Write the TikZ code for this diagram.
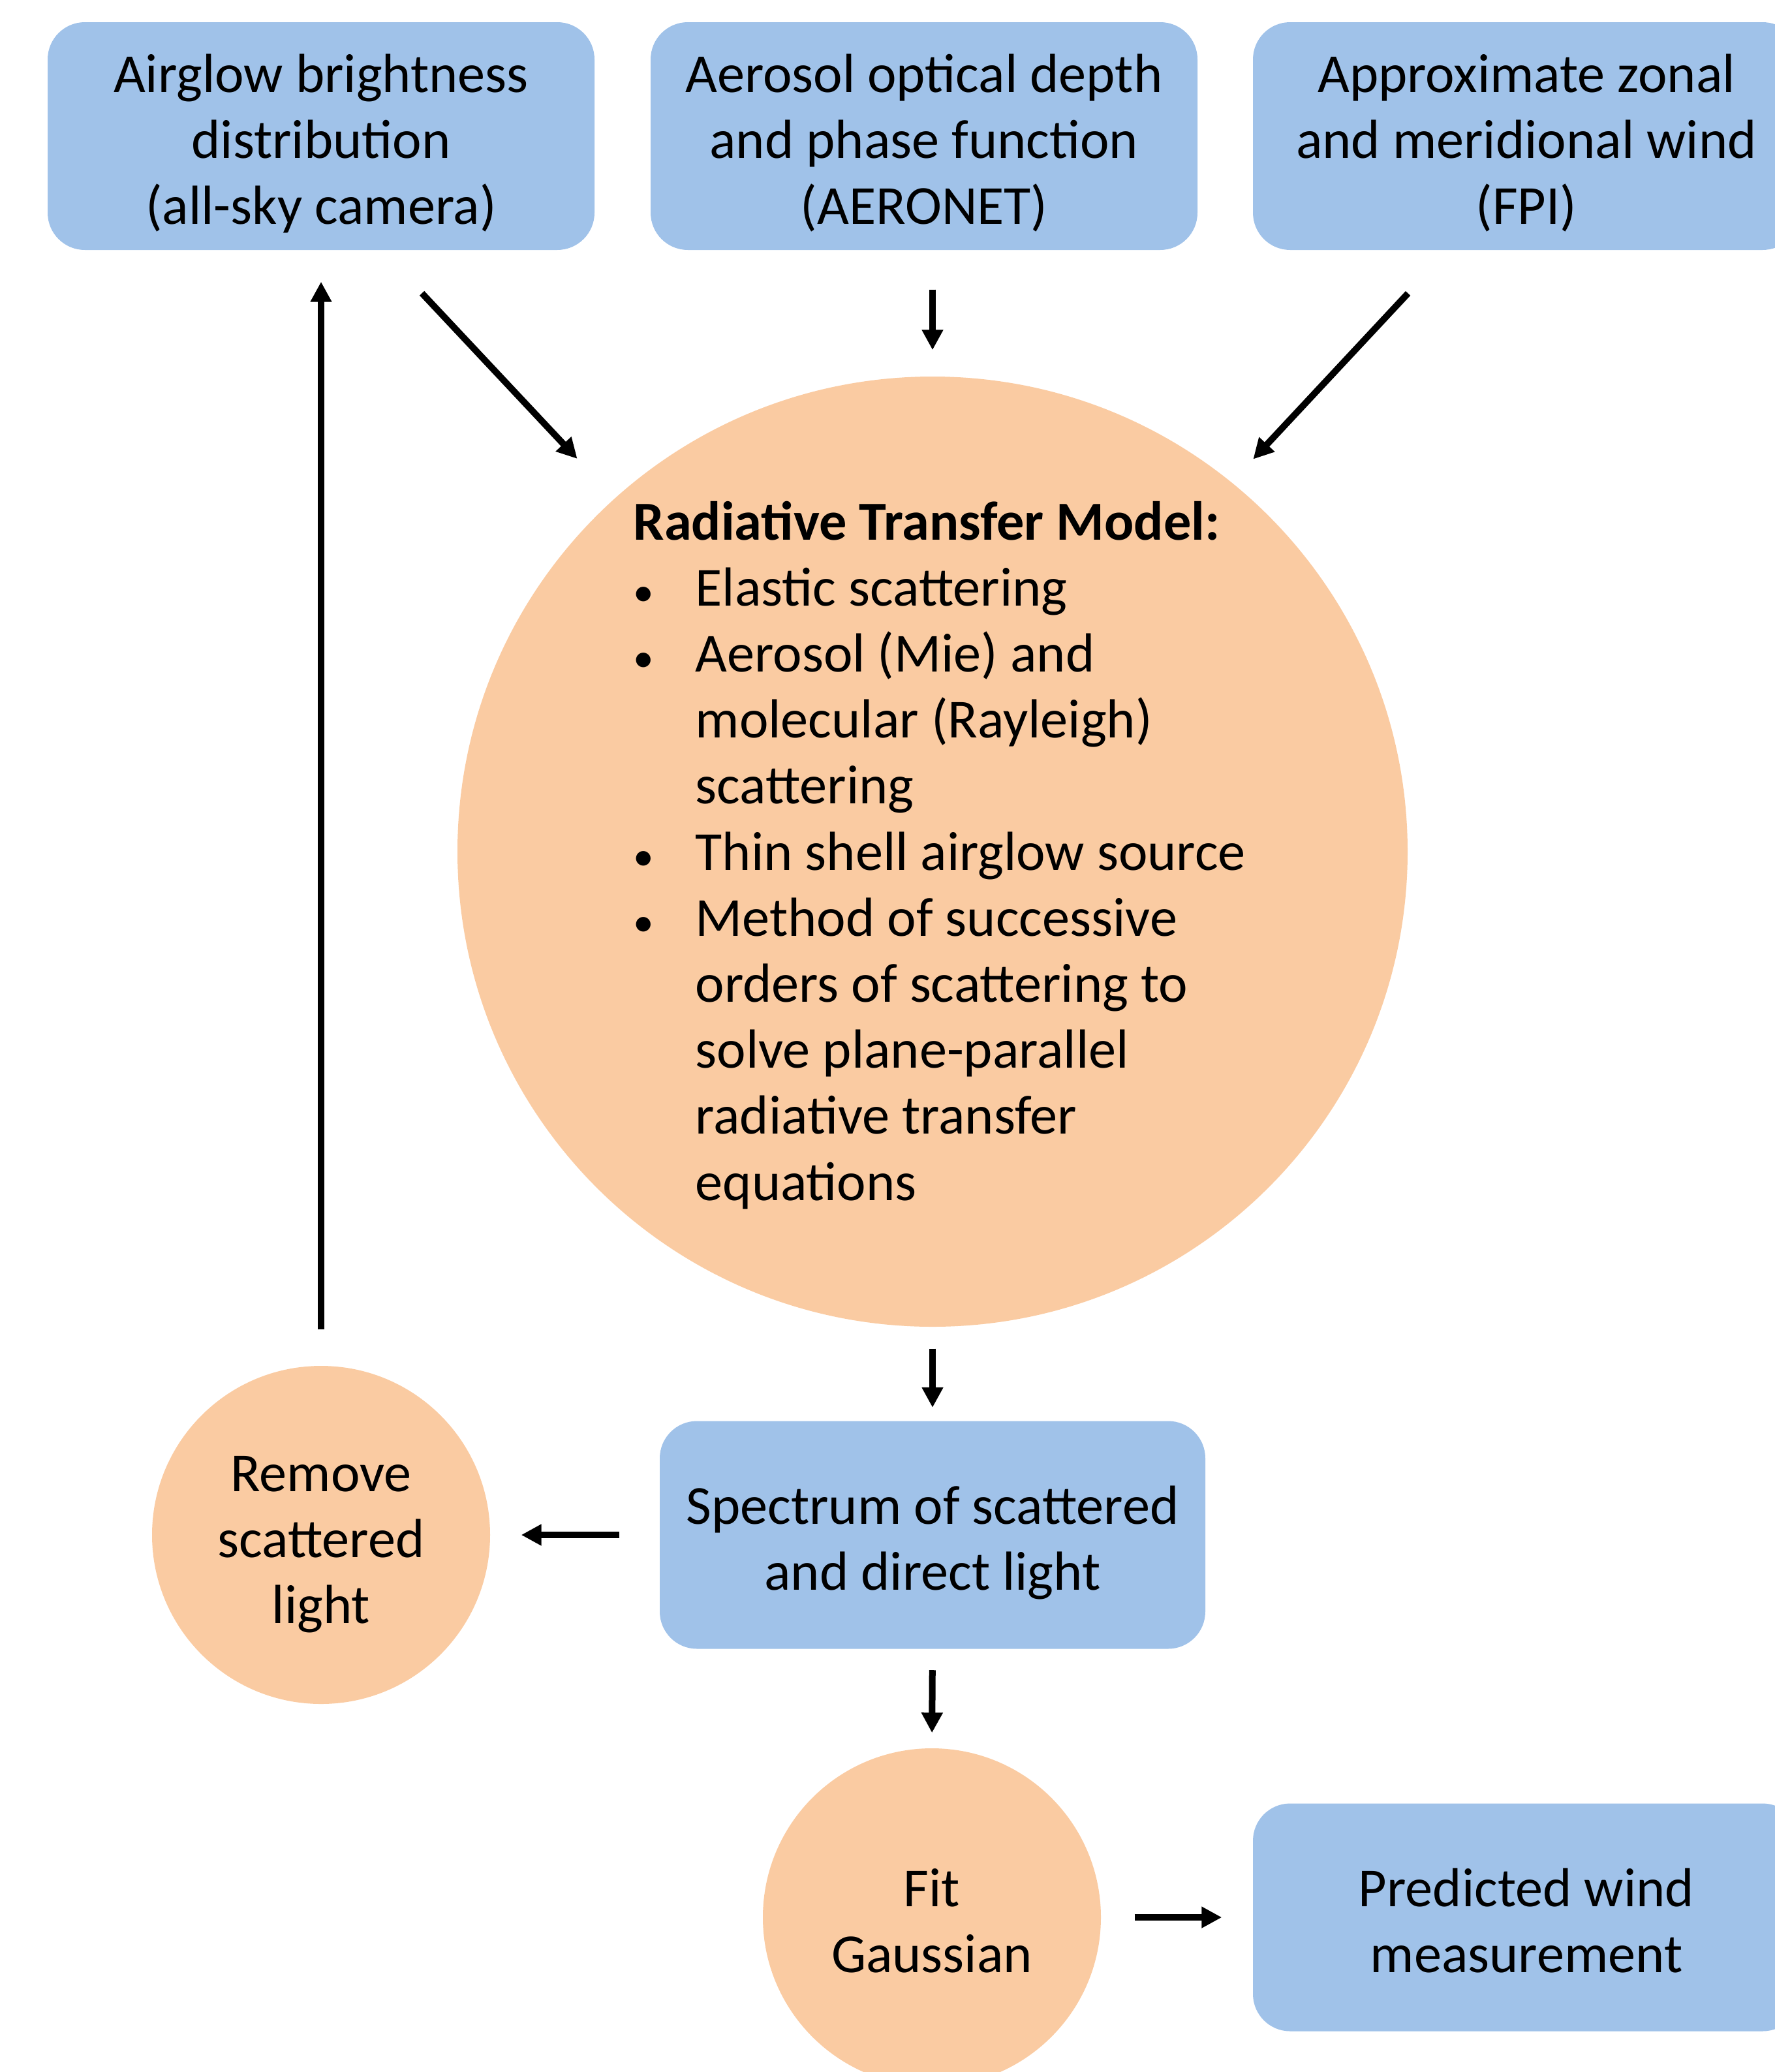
\documentclass[tikz,border=0pt]{standalone}
\usepackage{fontspec}
\setmainfont{Carlito}
\usetikzlibrary{arrows.meta}
\definecolor{boxblue}{RGB}{160,194,233}
\definecolor{blobpeach}{RGB}{250,203,162}
\newcommand\tstrut{\rule{0pt}{26pt}}
\newcommand\bstrut{\rule[-6.5pt]{0pt}{6.5pt}}
\newcommand\dotmark{{\fontsize{18}{18}\selectfont\textbullet}}
\begin{document}
\begin{tikzpicture}[
  box/.style={fill=boxblue,rounded corners=.57cm,minimum width=8.38cm,minimum height=3.49cm,align=center,inner sep=0pt},
  blob/.style={circle,fill=blobpeach,inner sep=0pt,align=center},
  flow/.style={line width=.1cm,-{Triangle[length=.31cm,width=.31cm]}},
  font=\fontsize{24}{28.8}\selectfont]
  \clip (0,0) rectangle (27.2,-31.75);
  % inputs
  \node[box] (sky) at (4.92,-2.085) {\tstrut Airglow brightness\\distribution\\(all-sky camera)\bstrut};
  \node[box] (aero) at (14.16,-2.085) {\tstrut Aerosol optical depth\\and phase function\\(AERONET)\bstrut};
  \node[box] (fpi) at (23.39,-2.085) {\tstrut Approximate zonal\\and meridional wind\\(FPI)\bstrut};
  % model
  \node[blob,minimum size=14.56cm] (rtm) at (14.29,-13.05) {};
  \node[anchor=base west,inner sep=0pt] (rtmtext) at ([shift={(-4.59,4.78)}]rtm.center) {%
    \begin{tabular}[t]{@{}p{.95cm}@{}l@{}}
      \multicolumn{2}{@{}l@{}}{\textbf{Radiative Transfer Model:}}\\
      \dotmark & Elastic scattering\\
      \dotmark & Aerosol (Mie) and\\
               & molecular (Rayleigh)\\
               & scattering\\
      \dotmark & Thin shell airglow source\\
      \dotmark & Method of successive\\
               & orders of scattering to\\
               & solve plane-parallel\\
               & radiative transfer\\
               & equations
    \end{tabular}};
  % outputs
  \node[box,minimum width=8.36cm] (spec) at (14.29,-23.52) {\tstrut Spectrum of scattered\\and direct light\bstrut};
  \node[blob,minimum size=5.18cm] (remove) at (4.92,-23.52) {\tstrut Remove\\scattered\\light\bstrut};
  \node[blob,minimum size=5.18cm] (fit) at (14.28,-29.38) {\tstrut Fit\\Gaussian\bstrut};
  \node[box] (pred) at (23.39,-29.38) {\tstrut Predicted wind\\measurement\bstrut};
  % arrows
  \draw[flow,shorten <=.9cm,shorten >=.83cm] ([xshift=.93cm]sky.south) -- (rtm.132);
  \draw[flow,shorten <=.6cm,shorten >=.4cm] (aero.south -| rtm.north) -- (rtm.north);
  \draw[flow,shorten <=.9cm,shorten >=.48cm] ([xshift=-1.2cm]fpi.south) -- (rtm.51);
  \draw[flow,shorten <=.33cm,shorten >=.2cm] (rtm.south) -- (spec.north);
  \draw[flow,shorten <=.61cm,shorten >=.47cm] (spec.west) -- (remove.east);
  \draw[flow,shorten <=.32cm,shorten >=.23cm] (spec.south) -- (fit.north);
  \draw[flow,shorten <=.55cm,shorten >=.48cm] (remove.north) -- (sky.south);
  \draw[flow,shorten <=.51cm,shorten >=.47cm] (fit.east) -- (pred.west);
\end{tikzpicture}
\end{document}
